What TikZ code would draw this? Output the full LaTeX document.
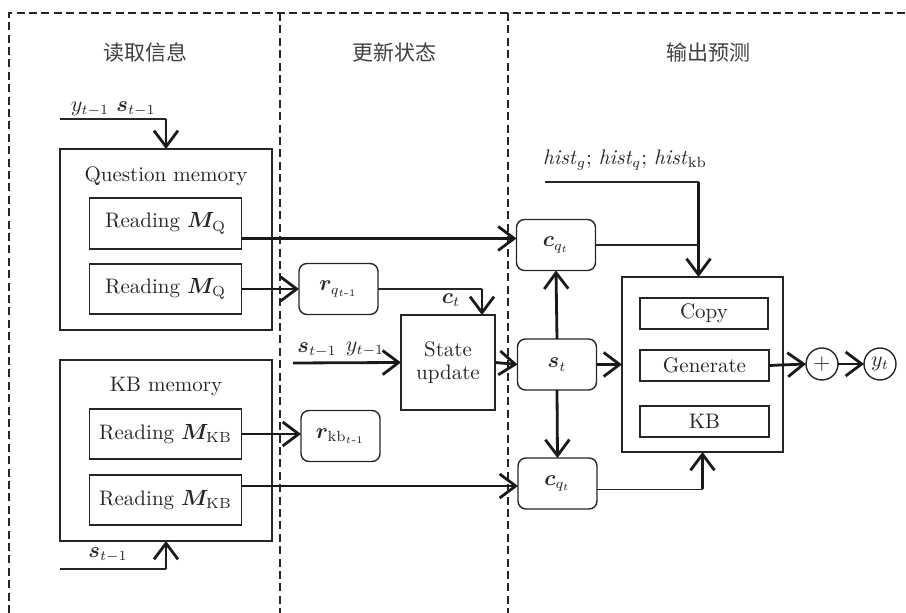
\documentclass[tikz,border=0pt]{standalone}
\usepackage{fontspec}
\usepackage{amsmath,bm}
\newfontfamily\cjk{Noto Sans CJK SC}
\usetikzlibrary{arrows.meta,calc}
\tikzset{
  every node/.style={text=black!85, inner sep=0pt, outer sep=0pt, font=\fontsize{10.5pt}{12.6pt}\selectfont},
  rect/.style={draw=black!85, line width=0.7pt, minimum width=#1},
  rbox/.style={draw=black!85, line width=0.7pt, rounded corners=4pt, minimum width=39.5pt, minimum height=25.5pt},
  circ/.style={draw=black!85, line width=0.7pt, circle, minimum size=16pt},
  thinln/.style={draw=black!85, line width=0.7pt},
  thickarr/.style={draw=black!90, line width=1.4pt, -{Straight Barb[length=8pt,width=12pt]}},
  title/.style={font=\cjk\fontsize{10.5pt}{12pt}\selectfont, text=black!75},
  dashln/.style={draw=black!85, line width=0.6pt, dash pattern=on 4pt off 2.2pt}
}
\begin{document}
\begin{tikzpicture}[x=0.5pt,y=-0.5pt]
\useasboundingbox (0,0) rectangle (906,613);
% dashed frame
\draw[dashln] (9,613) -- (9,13) -- (906,13);
\draw[dashln] (280,13) -- (280,613);
\draw[dashln] (508,13) -- (508,613);
% titles
\node[title] (t1) at (145,52) {读取信息};
\node[title] (t2) at (394,52) {更新状态};
\node[title] (t3) at (708,52) {输出预测};
% question memory
\node[rect=106pt, minimum height=90.5pt] (qmem) at (166,239.5) {};
\node (qlab) at (166,176) {Question memory};
\node[rect=76pt, minimum height=25.5pt] (mq1) at (165.5,223.5) {Reading $\bm{M}_{\mathrm{Q}}$};
\node[rect=76pt, minimum height=25pt] (mq2) at (165.5,289) {Reading $\bm{M}_{\mathrm{Q}}$};
% kb memory
\node[rect=106pt, minimum height=90.5pt] (kbmem) at (166,450.5) {};
\node (kblab) at (166,386) {KB memory};
\node[rect=76pt, minimum height=25pt] (mkb1) at (165.5,434) {Reading $\bm{M}_{\mathrm{KB}}$};
\node[rect=76pt, minimum height=25pt] (mkb2) at (165.5,500) {Reading $\bm{M}_{\mathrm{KB}}$};
% middle column
\node[rbox] (rq) at (338.5,289) {$\bm{r}_{q_{t\text{-}1}}$};
\node[rbox] (rkb) at (340.5,436) {$\bm{r}_{\mathrm{kb}_{t\text{-}1}}$};
\node[rect=47pt, minimum height=47.5pt, align=center] (su) at (448,362.5) {State\\[-1pt]update};
% right column
\node[rbox] (cq1) at (556,245) {$\bm{c}_{q_t}$};
\node[rbox] (st) at (557,364.5) {$\bm{s}_t$};
\node[rbox] (cq2) at (557.5,483.5) {$\bm{c}_{q_t}$};
\node[rect=80.5pt, minimum height=87.5pt] (big) at (702.5,364.5) {};
\node[rect=64pt, minimum height=15.5pt] (copy) at (704,313.5) {Copy};
\node[rect=64.5pt, minimum height=15.5pt] (gen) at (704.5,365.5) {Generate};
\node[rect=64.5pt, minimum height=15.5pt] (kb) at (704.5,421.5) {KB};
\node[circ] (plus) at (822,364) {$+$};
\node[circ] (yt) at (880,364) {$y_t$};
% input labels
\node (l1) at (90,109) {$y_{t-1}$};
\node (l2) at (136,109) {$\bm{s}_{t-1}$};
\node (l3) at (108,555) {$\bm{s}_{t-1}$};
\node (l4) at (317,350) {$\bm{s}_{t-1}$};
\node (l5) at (365,349) {$y_{t-1}$};
\node (l6) at (451,300) {$\bm{c}_t$};
\node (l7) at (625,160) {\textit{hist}$_g$; \textit{hist}$_q$; \textit{hist}$_{\mathrm{kb}}$};
% free ends
\coordinate (in1) at (60,119);
\coordinate (in2) at (60,569);
\coordinate (in3) at (293,363);
\coordinate (hin) at (545,182);
\coordinate (cin) at ($(su.north east)+(-13,0)$);
\coordinate (mqo) at ($(mq1.east)+(0,15)$);
\coordinate (mkbo) at ($(mkb2.east)+(0,-14)$);
\coordinate (cqo) at ($(cq2.east)+(0,6)$);
\coordinate (bn) at ($(big.north)+(-4,0)$);
% connectors
\draw[thinln] (in1) -- (qmem.north |- in1);
\draw[thickarr] (qmem.north |- in1) -- (qmem.north);
\draw[thinln] (in2) -- (kbmem.south |- in2);
\draw[thickarr] (kbmem.south |- in2) -- (kbmem.south);
\draw[thickarr] (in3) -- (su.west);
\draw[thickarr] (mqo) -- (cq1.west |- mqo);
\draw[thickarr] (mq2.east) -- (rq.west);
\draw[thickarr] (mkb1.east) -- (rkb.west |- mkb1.east);
\draw[thickarr] (mkbo) -- (cq2.west |- mkbo);
\draw[thinln] (rq.east) -- (rq.east -| cin);
\draw[thickarr] (rq.east -| cin) -- (cin);
\draw[thickarr] (su.east) -- (st.west);
\draw[thickarr] (st.north) -- (cq1.south);
\draw[thickarr] (st.south) -- (cq2.north);
\draw[thickarr] (st.east) -- (big.west);
\draw[thinln] (hin) -- (bn |- hin);
\draw[thickarr] (bn |- hin) -- (bn);
\draw[thinln] (cq1.east) -- (bn |- cq1.east);
\draw[thinln] (cqo) -- (big.south |- cqo);
\draw[thickarr] (big.south |- cqo) -- (big.south);
\draw[thickarr] (gen.east) -- (plus.west);
\draw[thickarr] (plus.east) -- (yt.west);
\end{tikzpicture}
\end{document}
